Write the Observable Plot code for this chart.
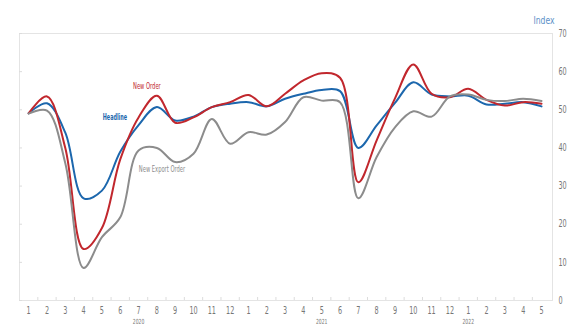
<!DOCTYPE html>
<html>
<head>
<meta charset="utf-8">
<script src="https://cdn.jsdelivr.net/npm/d3@7"></script>
<script src="https://cdn.jsdelivr.net/npm/@observablehq/plot@0.6"></script>
<style>
  html, body { margin: 0; padding: 0; background: #fff; }
  #chart { width: 572px; height: 326px; }
  #chart svg { font-family: "Liberation Sans Narrow", "DejaVu Sans Condensed", sans-serif; }
</style>
</head>
<body>
<div id="chart"></div>
<script>
// Month labels along the bottom axis, Jan 2020 – May 2022
const monthLabels = ["1","2","3","4","5","6","7","8","9","10","11","12",
                     "1","2","3","4","5","6","7","8","9","10","11","12",
                     "1","2","3","4","5"];
const yearLabels = ["2020", "2021", "2022"];
const yearAtMonth = [6, 16, 24];          // index of the month the year sits under
const yTicks = [0, 10, 20, 30, 40, 50, 60, 70];

const seriesNames = ["Headline", "New Order", "New Export Order"];
const seriesColors = ["#1c67ad", "#c1272d", "#8c8c8c"];

const headline = [49.1, 51.7, 44.0, 26.8, 28.8, 39.0, 46.0, 50.7, 47.2, 48.2, 50.7, 51.6,
                  52.0, 50.9, 52.9, 54.2, 55.2, 54.9, 40.0, 45.9, 51.8, 57.2, 54.0, 53.5,
                  53.7, 51.4, 51.6, 52.0, 50.9];
const newOrder = [49.1, 53.5, 40.0, 13.5, 19.0, 37.0, 48.0, 53.7, 46.6, 48.0, 50.7, 52.0,
                  53.9, 50.9, 54.2, 57.7, 59.6, 58.4, 31.0, 42.0, 53.0, 61.9, 54.2, 53.3,
                  55.5, 52.6, 51.1, 52.0, 51.6];
const newExportOrder = [49.0, 49.8, 36.0, 8.5, 16.6, 21.8, 39.3, 40.0, 36.3, 38.5, 47.6, 41.1,
                        44.1, 43.5, 46.8, 53.3, 52.4, 52.0, 26.8, 37.6, 45.4, 49.6, 48.2, 53.5,
                        54.0, 52.6, 52.3, 52.9, 52.3];

// Series name labels: which month they hang from, and their offset from that point
const labelSeries = ["New Order", "Headline", "New Export Order"];
const labelMonth = [7, 7, 7];
const labelDx = [-10, -42, -18];
const labelDy = [-10, 10, 21];
const labelAnchor = ["middle", "middle", "start"];

const seriesValues = [headline, newOrder, newExportOrder];
const rows = seriesNames.flatMap((name, s) =>
  seriesValues[s].map((value, i) => ({ series: name, i, value })));

const labels = labelSeries.map((name, k) => {
  const s = seriesNames.indexOf(name);
  return { series: name, i: labelMonth[k], value: seriesValues[s][labelMonth[k]],
           dx: labelDx[k], dy: labelDy[k], anchor: labelAnchor[k] };
});

const months = monthLabels.map((label, i) => ({ label, i }));
const years = yearLabels.map((label, k) => ({ label, i: yearAtMonth[k] }));
const boundaries = monthLabels.slice(1).map((_, i) => i + 0.5);

const chart = Plot.plot({
  width: 572,
  height: 326,
  marginLeft: 19,
  marginRight: 20,
  marginTop: 33,
  marginBottom: 26,
  style: { color: "#777", background: "#fff" },
  x: { domain: [-0.5, 28.6] },
  y: { domain: [0, 70] },
  color: { domain: seriesNames, range: seriesColors },
  marks: [
    Plot.frame({ stroke: "#e4e4e4" }),
    Plot.axisY({ anchor: "left", ticks: yTicks, tickSize: -3, tickFormat: () => "", stroke: "#dcdcdc", label: null }),
    Plot.axisY({ anchor: "right", ticks: yTicks, tickSize: 0, tickPadding: 6, fontSize: 10, fill: "#777", label: null, textAnchor: "start" }),
    Plot.axisX({ ticks: boundaries, tickSize: -3, tickFormat: () => "", stroke: "#dcdcdc", label: null }),
    Plot.text(months, { x: "i", text: "label", frameAnchor: "bottom", dy: 13, fontSize: 10, fill: "#777" }),
    Plot.text(years, { x: "i", text: "label", frameAnchor: "bottom", dy: 23, fontSize: 7, fill: "#777" }),
    Plot.text(["Index"], { frameAnchor: "top-right", dx: 2, dy: -17, textAnchor: "end", fontSize: 10, fill: "#5b8fc7" }),
    Plot.line(rows, { x: "i", y: "value", z: "series", stroke: "series", curve: "catmull-rom", strokeWidth: 2 }),
    ...labels.map(d => Plot.text([d], {
      x: "i", y: "value", text: "series", fill: "series", dx: d.dx, dy: d.dy,
      textAnchor: d.anchor, fontSize: 9,
      fontWeight: d.series === "Headline" ? "bold" : "normal"
    }))
  ]
});

document.getElementById("chart").appendChild(chart);

// Squeeze the type horizontally to a condensed face
d3.select(chart).selectAll("text").each(function () {
  const t = this.textContent.trim();
  if (!t) return;
  const factor = seriesNames.includes(t) ? (t === "Headline" ? 0.6 : 0.64)
               : t === "Index" ? 0.85 : 0.72;
  const len = this.getComputedTextLength();
  if (len > 0) {
    this.setAttribute("textLength", (len * factor).toFixed(2));
    this.setAttribute("lengthAdjust", "spacingAndGlyphs");
  }
});
</script>
</body>
</html>
